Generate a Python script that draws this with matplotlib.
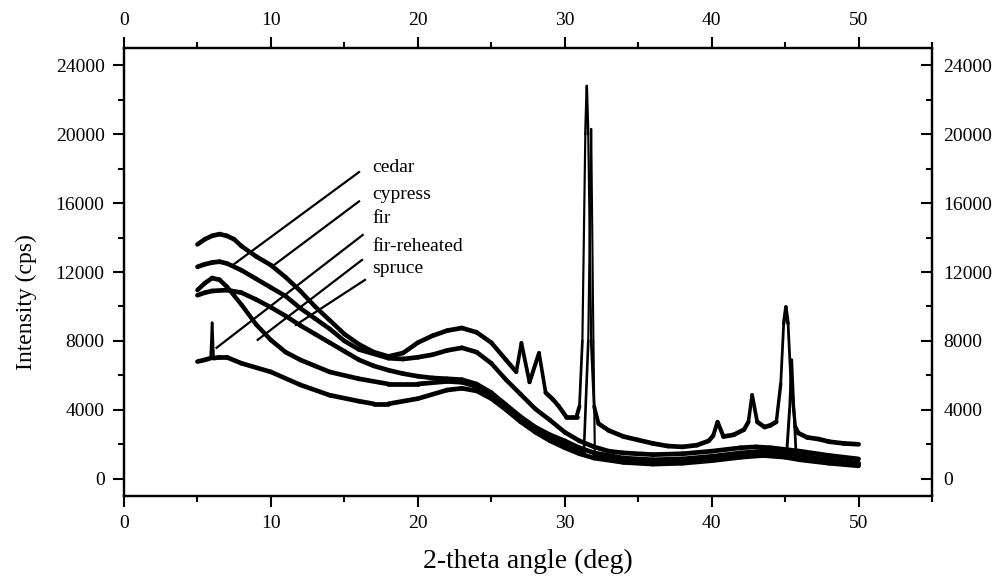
import numpy as np
from matplotlib import pyplot as plt
from matplotlib.collections import LineCollection
from matplotlib.ticker import MultipleLocator

plt.rcParams['font.family'] = ['Liberation Serif', 'DejaVu Serif']

# cypress (top curve, crystalline peaks)
x_cypress = [5, 5.5, 6, 6.5, 7, 7.5, 8, 9, 10, 11, 12, 13, 14, 15, 16, 17, 18, 19, 20, 21, 22, 23, 24, 25, 26,
             26.7, 27.05, 27.6, 28.25, 28.7, 29.2, 29.6, 30.1, 30.8, 31.0, 31.2, 31.4, 31.5, 31.6, 31.8, 32.0,
             32.3, 33, 34, 35, 36, 37, 38, 39, 39.8, 40.1, 40.4, 40.8, 41.5, 42.2, 42.5, 42.75, 43.1, 43.6,
             44.0, 44.4, 44.7, 44.9, 45.05, 45.2, 45.4, 45.7, 45.9, 46.5, 47.3, 48, 49, 50]
y_cypress = [13600, 13900, 14100, 14200, 14100, 13900, 13500, 12900, 12400, 11700, 10900, 10000, 9200, 8400,
             7800, 7350, 7100, 7300, 7900, 8300, 8600, 8750, 8500, 7900, 6900,
             6200, 7880, 5600, 7300, 5000, 4600, 4200, 3600, 3600, 4200, 8000, 20000, 22800, 20000, 8000, 4200,
             3200, 2800, 2450, 2250, 2050, 1900, 1850, 1950, 2200, 2500, 3300, 2450, 2550, 2850, 3300, 4870,
             3300, 3000, 3100, 3300, 5500, 9000, 9970, 9000, 5500, 3000, 2650, 2400, 2300, 2150, 2050, 2000]

# cedar
x_cedar = [5, 5.5, 6, 6.5, 7, 8, 9, 10, 11, 12, 13, 14, 15, 16, 17, 18, 19, 20, 21, 22, 23, 24, 25, 26, 27,
           28, 29, 30, 31, 32, 33, 34, 36, 38, 40, 42, 43, 44, 46, 48, 50]
y_cedar = [12300, 12450, 12550, 12600, 12500, 12100, 11600, 11100, 10600, 9900, 9300, 8700, 8000, 7500, 7250,
           7000, 6950, 7050, 7200, 7450, 7600, 7350, 6700, 5750, 4900, 4050, 3400, 2700, 2200, 1850, 1600, 1500,
           1400, 1450, 1600, 1800, 1850, 1800, 1600, 1350, 1150]

# spruce
x_spruce = [5, 5.5, 6, 7, 8, 9, 10, 11, 12, 13, 14, 15, 16, 17, 18, 19, 20, 21, 22, 23, 24, 25, 26, 27, 28,
            29, 30, 31, 32, 34, 36, 38, 40, 42, 43.5, 45, 46, 48, 50]
y_spruce = [10650, 10800, 10900, 10950, 10800, 10400, 9950, 9450, 8900, 8400, 7900, 7400, 6900, 6550, 6300,
            6100, 5950, 5850, 5800, 5750, 5500, 5000, 4300, 3600, 3000, 2550, 2200, 1800, 1500, 1200, 1100,
            1150, 1300, 1500, 1600, 1500, 1350, 1100, 900]

# fir-reheated (steep drop, thin peaks at 31.8 and 45.45)
x_firre = [5, 5.5, 6, 6.5, 7, 8, 9, 10, 11, 12, 13, 14, 16, 18, 20, 22, 23, 24, 25, 26, 27, 28, 29, 30, 31,
           31.3, 31.6, 31.8, 31.95, 32.05, 34, 36, 38, 40, 42, 43.5, 45.1, 45.3, 45.45, 45.6, 45.75, 46, 48, 50]
y_firre = [10950, 11350, 11650, 11550, 11150, 10100, 8950, 8050, 7350, 6900, 6550, 6200, 5800, 5500, 5500,
           5650, 5600, 5350, 4850, 4200, 3500, 2900, 2450, 2000, 1650, 1550, 8000, 20300, 8000, 1400, 1100,
           1000, 1050, 1200, 1400, 1500, 1400, 4000, 6900, 4000, 1300, 1250, 1000, 850]

# fir (lowest, spike near 6)
x_fir = [5, 5.5, 5.9, 6.0, 6.1, 6.5, 7, 8, 10, 12, 14, 16, 17, 18, 20, 22, 23, 24, 25, 26, 27, 28, 29, 30,
         31, 32, 34, 36, 38, 40, 42, 43.5, 45, 46, 48, 50]
y_fir = [6800, 6900, 7000, 9050, 7000, 7050, 7050, 6700, 6200, 5450, 4850, 4500, 4350, 4350, 4650, 5150, 5250,
         5100, 4650, 4000, 3300, 2700, 2200, 1800, 1450, 1200, 950, 850, 900, 1050, 1250, 1350, 1250, 1100,
         900, 750]

names = ['cedar', 'cypress', 'fir', 'fir-reheated', 'spruce']
label_y = [18090, 16520, 15130, 13500, 12230]
# leader lines: start (near label) and end (on curve)
lead_x0 = [16.0, 16.0, 16.25, 16.2, 16.4]
lead_y0 = [17800, 16100, 14150, 12700, 11540]
lead_x1 = [7.4, 10.05, 6.3, 9.1, 11.7]
lead_y1 = [12400, 12300, 7600, 8060, 8930]

fig = plt.figure(figsize=(9.99, 5.78), dpi=100)
ax = fig.add_axes([0.1241, 0.1419, 0.8089, 0.775])
ax.set_xlim(0, 55)
ax.set_ylim(-1000, 25000)

# noisy scans look like thick bands: the band gets thinner where the trace is steep
px_x = 808 / 55.0
px_y = 448 / 26000.0
for xs, ys in [(x_cypress, y_cypress), (x_cedar, y_cedar), (x_spruce, y_spruce),
               (x_firre, y_firre), (x_fir, y_fir)]:
    xs = np.array(xs)
    ys = np.array(ys)
    segs = np.stack([np.column_stack([xs[:-1], ys[:-1]]), np.column_stack([xs[1:], ys[1:]])], axis=1)
    s = np.abs(np.diff(ys) * px_y / (np.diff(xs) * px_x))
    widths = 1.3 + 2.1 / (1 + s / 10)
    ax.add_collection(LineCollection(segs, colors='black', linewidths=widths, capstyle='round',
                                     joinstyle='round'))

for i in range(len(names)):
    ax.plot([lead_x0[i], lead_x1[i]], [lead_y0[i], lead_y1[i]], color='black', lw=1.6)
    ax.text(16.9, label_y[i], names[i], fontsize=14, va='center', ha='left')

ax.xaxis.set_major_locator(MultipleLocator(10))
ax.xaxis.set_minor_locator(MultipleLocator(5))
ax.yaxis.set_major_locator(MultipleLocator(4000))
ax.yaxis.set_minor_locator(MultipleLocator(2000))
ax.tick_params(axis='x', which='both', direction='out', top=True, labeltop=True, labelsize=14, pad=6, width=1.5)
ax.tick_params(axis='y', which='both', direction='out', right=False, labelsize=14, pad=6, width=1.5)
ax.tick_params(which='major', length=8)
ax.tick_params(which='minor', length=4)

ax2 = ax.twinx()
ax2.set_ylim(ax.get_ylim())
ax2.yaxis.set_major_locator(MultipleLocator(4000))
ax2.yaxis.set_minor_locator(MultipleLocator(2000))
ax2.tick_params(axis='y', which='both', direction='in', labelsize=14, pad=8, width=1.5)
ax2.tick_params(which='major', length=8)
ax2.tick_params(which='minor', length=4)

for a in (ax, ax2):
    for sp in a.spines.values():
        sp.set_linewidth(1.6)

ax.set_xlabel('2-theta angle (deg)', fontsize=20, labelpad=12)
ax.set_ylabel('Intensity (cps)', fontsize=17)
ax.yaxis.set_label_coords(-0.108, 0.433)

plt.savefig('out.png', dpi=100)
